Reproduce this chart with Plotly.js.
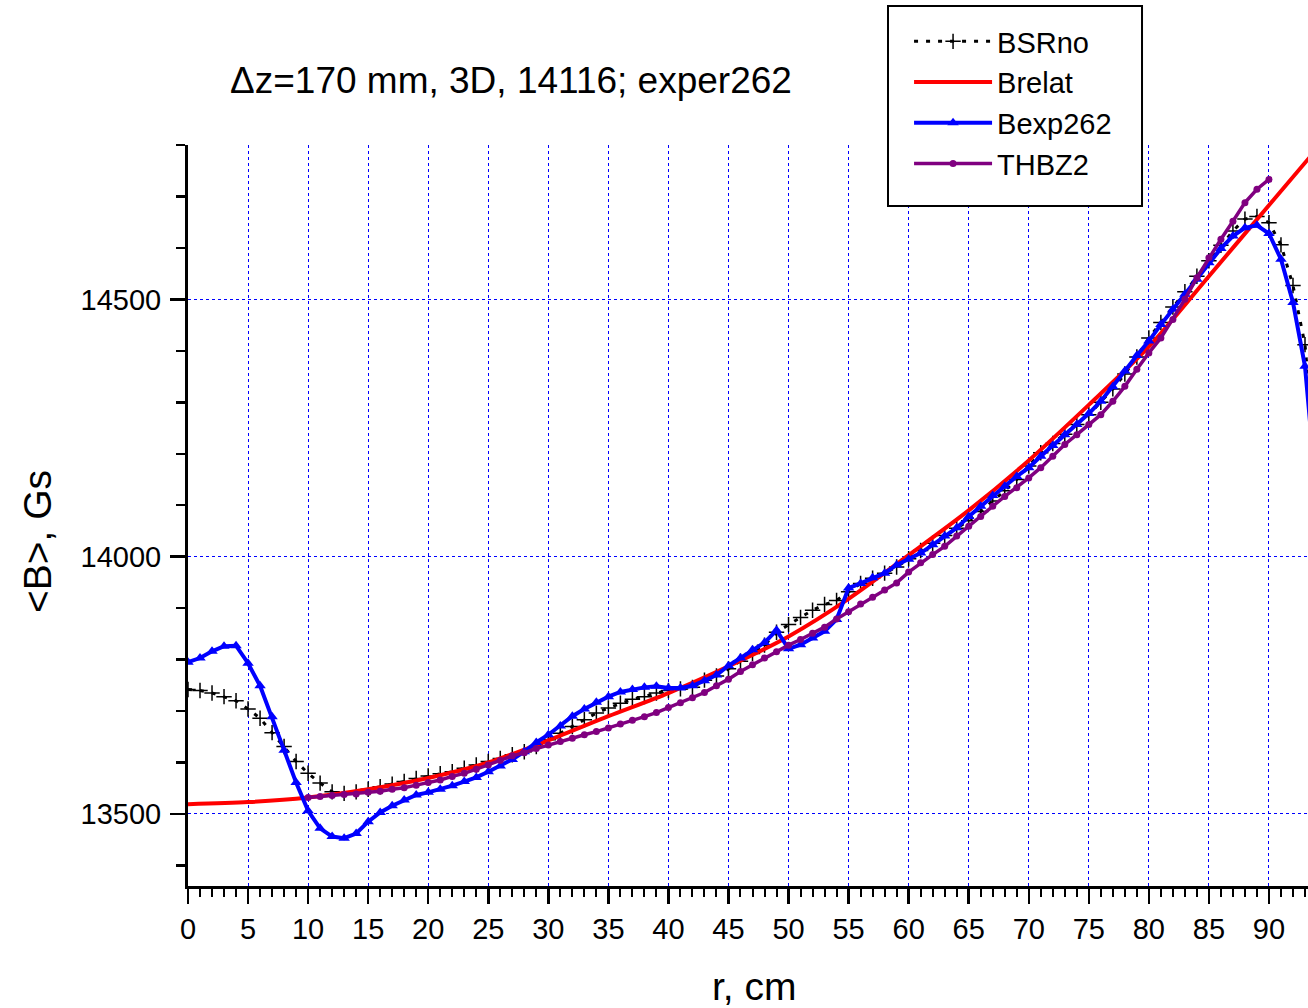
<!DOCTYPE html>
<html>
<head>
<meta charset="utf-8">
<script src="https://cdn.plot.ly/plotly-3.0.1.min.js"></script>
<style>
  html, body { margin: 0; padding: 0; background: #ffffff; }
  #chart { width: 1308px; height: 1008px; }
</style>
</head>
<body>
<div id="chart"></div>
<script>
// Radius grid (cm) shared by the BSRno and Bexp262 series
const rFull = [0,1,2,3,4,5,6,7,8,9,10,11,12,13,14,15,16,17,18,19,20,21,22,23,24,25,26,27,28,29,
  30,31,32,33,34,35,36,37,38,39,40,41,42,43,44,45,46,47,48,49,50,51,52,53,54,55,56,57,58,59,
  60,61,62,63,64,65,66,67,68,69,70,71,72,73,74,75,76,77,78,79,80,81,82,83,84,85,86,87,88,89,
  90,91,92,93,94];

// BSRno, Gs
const bsrno = [13742,13740,13735,13728,13720,13704,13686,13658,13631,13602,
  13579,13560,13543,13540,13543,13548,13553,13558,13563,13569,
  13574,13578,13582,13589,13595,13602,13608,13615,13621,13631,
  13644,13657,13670,13683,13696,13706,13715,13723,13728,13735,
  13740,13743,13746,13760,13768,13782,13797,13812,13828,13853,
  13868,13882,13896,13907,13915,13932,13948,13958,13968,13980,
  13996,14012,14026,14041,14055,14070,14088,14108,14128,14150,
  14176,14202,14220,14238,14257,14276,14300,14326,14355,14388,
  14425,14455,14485,14515,14545,14575,14605,14633,14656,14661,
  14649,14606,14527,14412,14150];

// Bexp262 (experiment 262), Gs
const bexp262 = [13795,13803,13816,13826,13827,13793,13749,13689,13624,13561,
  13506,13472,13456,13453,13462,13485,13503,13516,13527,13537,
  13542,13548,13555,13563,13571,13582,13593,13606,13621,13639,
  13654,13671,13690,13704,13717,13728,13737,13742,13746,13748,
  13745,13745,13749,13759,13770,13788,13803,13819,13833,13857,
  13821,13829,13842,13855,13878,13939,13948,13959,13968,13984,
  13995,14007,14023,14040,14056,14078,14098,14119,14137,14156,
  14173,14195,14216,14237,14257,14278,14302,14330,14361,14391,
  14419,14451,14481,14510,14539,14571,14599,14623,14639,14644,
  14628,14578,14494,14370,14110];

// Brelat: smooth relativistic-field curve
const rRelat = [0,5,10,15,20,25,30,35,40,45,50,55,60,65,70,75,80,85,90,94];
const brelat = [13519,13523,13532,13548,13570,13600,13643,13690,13735,13787,
  13845,13918,14003,14090,14187,14295,14408,14545,14683,14793];

// THBZ2 calculation, r = 10..90 cm
const rThbz = [10,11,12,13,14,15,16,17,18,19,20,21,22,23,24,25,26,27,28,29,
  30,31,32,33,34,35,36,37,38,39,40,41,42,43,44,45,46,47,48,49,
  50,51,52,53,54,55,56,57,58,59,60,61,62,63,64,65,66,67,68,69,
  70,71,72,73,74,75,76,77,78,79,80,81,82,83,84,85,86,87,88,89,90];
const thbz2 = [13532,13534,13536,13538,13539,13542,13544,13548,13551,13556,
  13561,13566,13573,13579,13587,13595,13604,13613,13619,13627,
  13634,13641,13647,13654,13660,13667,13675,13682,13689,13697,
  13707,13716,13726,13736,13749,13762,13777,13790,13803,13815,
  13828,13839,13851,13863,13879,13893,13908,13921,13935,13949,
  13970,13988,14004,14020,14040,14059,14078,14098,14117,14134,
  14153,14173,14195,14218,14237,14257,14276,14302,14331,14364,
  14396,14425,14461,14500,14542,14581,14617,14652,14688,14714,14733];

const xTicks = [0,5,10,15,20,25,30,35,40,45,50,55,60,65,70,75,80,85,90];
const yTicks = [13500,14000,14500];

const FONT = "'Liberation Sans', Arial, Helvetica, sans-serif";

const traces = [
  {
    name: 'BSRno', x: rFull, y: bsrno, type: 'scatter', mode: 'lines+markers',
    line: { color: '#000000', width: 3, dash: '4px,8px' },
    marker: { symbol: 'cross-thin', size: 11, line: { color: '#000000', width: 1.5 } }
  },
  {
    name: 'Brelat', x: rRelat, y: brelat, type: 'scatter', mode: 'lines',
    line: { color: '#ff0000', width: 4, shape: 'spline', smoothing: 0.8 }
  },
  {
    name: 'Bexp262', x: rFull, y: bexp262, type: 'scatter', mode: 'lines+markers',
    line: { color: '#0000ff', width: 4 },
    marker: { symbol: 'triangle-up', size: 10, color: '#0000ff' }
  },
  {
    name: 'THBZ2', x: rThbz, y: thbz2, type: 'scatter', mode: 'lines+markers',
    line: { color: '#800080', width: 3.5 },
    marker: { symbol: 'circle', size: 7, color: '#800080' }
  }
];

const layout = {
  width: 1308, height: 1008,
  margin: { l: 188, r: 0, t: 145, b: 122 },
  paper_bgcolor: '#ffffff', plot_bgcolor: '#ffffff',
  font: { family: FONT, color: '#000000', size: 29 },
  showlegend: true,
  legend: {
    x: 0.6438, y: 1.1741, xanchor: 'left', yanchor: 'top',
    bgcolor: 'rgba(0,0,0,0)', borderwidth: 0,
    font: { family: FONT, size: 29, color: '#000000' },
    itemwidth: 78, tracegroupgap: 0
  },
  xaxis: {
    range: [0, 93.25], tickvals: xTicks, ticktext: xTicks.map(String),
    ticks: 'outside', ticklen: 15, tickwidth: 2.5, tickcolor: '#000000',
    showline: true, linewidth: 3, linecolor: '#000000', mirror: false,
    showgrid: true, gridcolor: '#0000ff', gridwidth: 1, griddash: 'dot',
    zeroline: false, tickfont: { family: FONT, size: 29 },
    minor: { dtick: 1, tick0: 0, ticks: 'outside', ticklen: 8, tickwidth: 2, tickcolor: '#000000', showgrid: false }
  },
  yaxis: {
    range: [13360, 14800], tickvals: yTicks, ticktext: yTicks.map(String),
    ticks: 'outside', ticklen: 15, tickwidth: 2.5, tickcolor: '#000000',
    showline: true, linewidth: 3, linecolor: '#000000', mirror: false,
    showgrid: true, gridcolor: '#0000ff', gridwidth: 1, griddash: 'dot',
    zeroline: false, tickfont: { family: FONT, size: 29 }, ticklabelstandoff: 3,
    minor: { dtick: 100, tick0: 13500, ticks: 'outside', ticklen: 9, tickwidth: 2.5, tickcolor: '#000000', showgrid: false }
  },
  // legend frame
  shapes: [
    {
      type: 'rect', xref: 'paper', yref: 'paper', layer: 'above',
      x0: 0.625, x1: 0.8518, y0: 0.9177, y1: 1.1876,
      line: { color: '#000000', width: 2 }, fillcolor: '#ffffff'
    }
  ],
  annotations: [
    {
      text: '\u0394z=170 mm, 3D, 14116; exper262', xref: 'paper', yref: 'paper',
      x: 0.0357, y: 1.0877, xanchor: 'left', yanchor: 'middle', showarrow: false,
      font: { family: FONT, size: 37, color: '#000000' }
    },
    {
      text: 'r, cm', xref: 'paper', yref: 'paper', x: 0.506, y: -0.1363,
      xanchor: 'center', yanchor: 'middle', showarrow: false,
      font: { family: FONT, size: 39, color: '#000000' }
    },
    {
      text: '&lt;B&gt;, Gs', xref: 'paper', yref: 'paper', x: -0.1348, y: 0.4642,
      xanchor: 'center', yanchor: 'middle', textangle: -90, showarrow: false,
      font: { family: FONT, size: 39, color: '#000000' }
    }
  ]
};

Plotly.newPlot('chart', traces, layout, { displayModeBar: false, staticPlot: true });
</script>
</body>
</html>
